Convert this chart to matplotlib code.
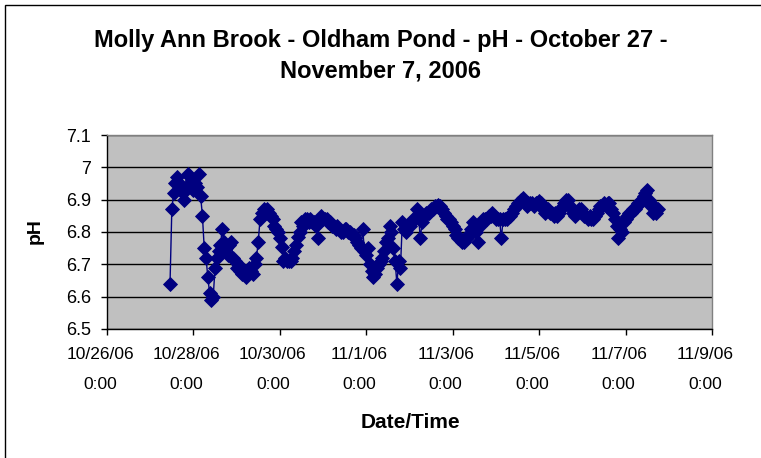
import matplotlib
matplotlib.use("Agg")
import matplotlib.pyplot as plt
import matplotlib.patches as mpatches
import matplotlib.transforms as mtrans
import pandas as pd

# ---- data (hourly pH readings) ----
start_time = "2006-10-27 11:00"
ph_values = [
    6.64, 6.87, 6.92, 6.95, 6.97, 6.95, 6.93, 6.92, 6.90, 6.94, 6.98, 6.97,
    6.96, 6.93, 6.95, 6.94, 6.98, 6.91, 6.85, 6.75, 6.72, 6.66, 6.61, 6.59,
    6.60, 6.69, 6.72, 6.74, 6.76, 6.81, 6.77, 6.75, 6.73, 6.76, 6.77, 6.72,
    6.71, 6.69, 6.70, 6.68, 6.67, 6.68, 6.66, 6.67, 6.69, 6.68, 6.67, 6.70,
    6.72, 6.77, 6.84, 6.86, 6.87, 6.86, 6.87, 6.86, 6.85, 6.84, 6.82, 6.81,
    6.80, 6.78, 6.755, 6.71, 6.72, 6.71, 6.71, 6.71, 6.72, 6.74, 6.76, 6.785,
    6.80, 6.83, 6.82, 6.84, 6.84, 6.83, 6.84, 6.83, 6.83, 6.82, 6.78, 6.83,
    6.85, 6.84, 6.84, 6.84, 6.83, 6.83, 6.82, 6.82, 6.81, 6.82, 6.81, 6.80,
    6.80, 6.81, 6.81, 6.80, 6.80, 6.79, 6.79, 6.78, 6.77, 6.76, 6.75, 6.81,
    6.74, 6.73, 6.75, 6.70, 6.68, 6.66, 6.67, 6.69, 6.70, 6.71, 6.72, 6.74,
    6.77, 6.78, 6.82, 6.80, 6.75, 6.71, 6.64, 6.71, 6.69, 6.83, 6.81, 6.80,
    6.82, 6.82, 6.83, 6.84, 6.84, 6.87, 6.85, 6.78, 6.83, 6.85, 6.86, 6.86,
    6.86, 6.87, 6.87, 6.88, 6.88, 6.885, 6.88, 6.87, 6.86, 6.85, 6.84, 6.84,
    6.83, 6.82, 6.81, 6.79, 6.78, 6.78, 6.77, 6.77, 6.78, 6.78, 6.79, 6.81,
    6.83, 6.81, 6.80, 6.77, 6.82, 6.83, 6.84, 6.84, 6.84, 6.85, 6.85, 6.86,
    6.85, 6.84, 6.84, 6.84, 6.78, 6.84, 6.84, 6.84, 6.85, 6.85, 6.86, 6.87,
    6.88, 6.89, 6.89, 6.90, 6.905, 6.89, 6.88, 6.89, 6.89, 6.89, 6.88, 6.89,
    6.89, 6.895, 6.89, 6.87, 6.86, 6.87, 6.87, 6.86, 6.86, 6.85, 6.86, 6.85,
    6.86, 6.87, 6.88, 6.89, 6.90, 6.90, 6.88, 6.87, 6.86, 6.85, 6.86, 6.87,
    6.87, 6.86, 6.85, 6.85, 6.84, 6.85, 6.84, 6.84, 6.85, 6.86, 6.87, 6.88,
    6.88, 6.89, 6.88, 6.89, 6.89, 6.87, 6.86, 6.84, 6.82, 6.78, 6.81, 6.80,
    6.83, 6.84, 6.85, 6.86, 6.86, 6.87, 6.87, 6.88, 6.89, 6.89, 6.90, 6.91,
    6.92, 6.93, 6.90, 6.88, 6.86, 6.88, 6.86, 6.87,
]
times = pd.date_range(start_time, periods=len(ph_values), freq="h")

x_tick_dates = pd.date_range("2006-10-26", "2006-11-09", freq="2D")
x_tick_labels = ["10/26/06\n0:00", "10/28/06\n0:00", "10/30/06\n0:00",
                 "11/1/06\n0:00", "11/3/06\n0:00", "11/5/06\n0:00",
                 "11/7/06\n0:00", "11/9/06\n0:00"]
y_ticks = [6.5, 6.6, 6.7, 6.8, 6.9, 7.0, 7.1]
y_tick_labels = ["6.5", "6.6", "6.7", "6.8", "6.9", "7", "7.1"]

title = "Molly Ann Brook - Oldham Pond - pH - October 27 -\nNovember 7, 2006"
x_label = "Date/Time"
y_label = "pH"

# ---- figure ----
plt.rcParams["font.family"] = ["Liberation Sans", "DejaVu Sans"]
W, H = 761, 458
fig = plt.figure(figsize=(W / 100, H / 100), dpi=100)
fig.patch.set_facecolor("white")
fig.patches.append(mpatches.Rectangle((5 / W, -10 / H), (W + 10) / W, (H + 5) / H,
                                      transform=fig.transFigure, fill=False,
                                      edgecolor="black", linewidth=1.0))

ax = fig.add_axes([107 / W, 1 - 329 / H, (712 - 107) / W, (329 - 135) / H])
ax.set_facecolor("#C0C0C0")
ax.set_axisbelow(True)
ax.yaxis.grid(True, color="black", linewidth=1.0)

ax.plot(times, ph_values, color="#000080", linewidth=1.0, marker="D",
        markersize=7.0, markerfacecolor="#000080", markeredgecolor="#000080",
        markeredgewidth=0.6)

ax.set_xlim(x_tick_dates[0], x_tick_dates[-1])
ax.set_ylim(6.5, 7.1)
ax.set_xticks(x_tick_dates)
ax.set_xticklabels(x_tick_labels, fontsize=12.5, linespacing=2.25)
ax.set_yticks(y_ticks)
ax.set_yticklabels(y_tick_labels, fontsize=13)
ax.tick_params(axis="both", direction="out", length=4.3, width=1.0, color="black")
ax.tick_params(axis="x", pad=9)
ax.tick_params(axis="y", pad=7)

shift = mtrans.ScaledTranslation(-7 / 100, 0, fig.dpi_scale_trans)
for lbl in ax.get_xticklabels():
    lbl.set_transform(lbl.get_transform() + shift)

for side in ["top", "right"]:
    ax.spines[side].set_color("#808080")
    ax.spines[side].set_linewidth(1.0)
for side in ["left", "bottom"]:
    ax.spines[side].set_color("black")
    ax.spines[side].set_linewidth(1.0)

fig.text(0.5, 1 - 56 / H, title, ha="center", va="center", fontsize=17,
         fontweight="bold", linespacing=1.4)
fig.text(410 / W, 1 - 423 / H, x_label, ha="center", va="center",
         fontsize=15, fontweight="bold")
fig.text(35 / W, 1 - 231 / H, y_label, ha="center", va="center",
         rotation=90, fontsize=14, fontweight="bold")

fig.savefig("out.png", dpi=100)
